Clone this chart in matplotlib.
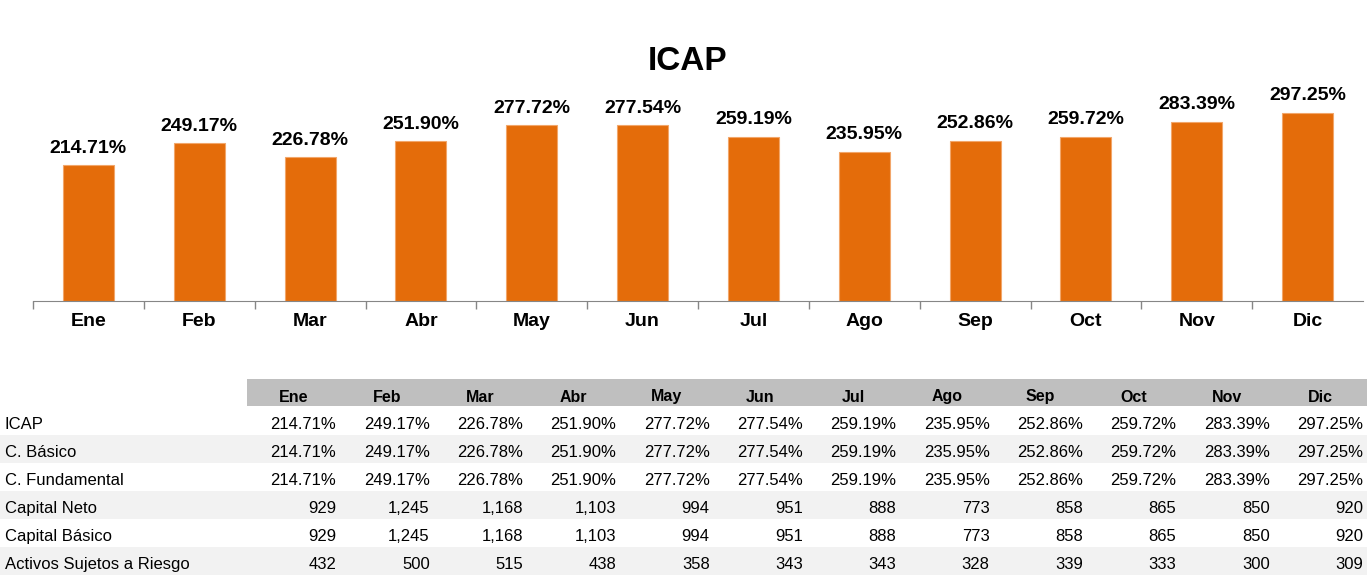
import numpy as np
import matplotlib
matplotlib.use('Agg')
import matplotlib.pyplot as plt
from matplotlib.patches import Rectangle

plt.rcParams['font.family'] = ['Liberation Sans', 'DejaVu Sans']

meses = ['Ene', 'Feb', 'Mar', 'Abr', 'May', 'Jun', 'Jul', 'Ago', 'Sep', 'Oct', 'Nov', 'Dic']
icap = [214.71, 249.17, 226.78, 251.90, 277.72, 277.54, 259.19, 235.95, 252.86, 259.72, 283.39, 297.25]
c_basico = [214.71, 249.17, 226.78, 251.90, 277.72, 277.54, 259.19, 235.95, 252.86, 259.72, 283.39, 297.25]
c_fundamental = [214.71, 249.17, 226.78, 251.90, 277.72, 277.54, 259.19, 235.95, 252.86, 259.72, 283.39, 297.25]
capital_neto = [929, 1245, 1168, 1103, 994, 951, 888, 773, 858, 865, 850, 920]
capital_basico = [929, 1245, 1168, 1103, 994, 951, 888, 773, 858, 865, 850, 920]
activos_riesgo = [432, 500, 515, 438, 358, 343, 343, 328, 339, 333, 300, 309]

filas = [
    ('ICAP', icap, True),
    ('C. Básico', c_basico, True),
    ('C. Fundamental', c_fundamental, True),
    ('Capital Neto', capital_neto, False),
    ('Capital Básico', capital_basico, False),
    ('Activos Sujetos a Riesgo', activos_riesgo, False),
]

W, H = 1370, 577
naranja = '#E46C0A'
gris_eje = '#868686'

fig = plt.figure(figsize=(W / 100, H / 100), dpi=100)

# tabla (coordenadas en pixeles)
tab = fig.add_axes([0, 0, 1, 1])
tab.set_xlim(0, W)
tab.set_ylim(H, 0)
tab.axis('off')

col_x0 = 247
col_w = 93.33
fila_h = 28
y_head = 379
y_filas = 407

tab.add_patch(Rectangle((col_x0, y_head), col_w * 12, fila_h - 1, color='#BFBFBF', lw=0))
for j, m in enumerate(meses):
    tab.text(col_x0 + (j + 0.5) * col_w, y_head + 18, m, ha='center', va='center',
             fontsize=11.5, fontweight='bold')

for r, (nombre, vals, pct) in enumerate(filas):
    top = y_filas + r * fila_h
    if r % 2 == 1:
        tab.add_patch(Rectangle((0, top), col_x0 + col_w * 12, fila_h, color='#F2F2F2', lw=0))
    tab.text(5, top + 17.5, nombre, ha='left', va='center', fontsize=12)
    for j, v in enumerate(vals):
        txt = f'{v:.2f}%' if pct else f'{v:,}'
        tab.text(col_x0 + (j + 1) * col_w - 4, top + 17.5, txt, ha='right', va='center', fontsize=12)

# grafico de barras
ax = fig.add_axes([33 / W, (H - 301) / H, 1330 / W, 221 / H])
x = np.arange(len(meses))
ax.bar(x, icap, width=0.46, color=naranja, edgecolor='#F2A66A', linewidth=0.8)
ax.set_xlim(-0.5, 11.5)
ax.set_ylim(0, 349)
for s in ['top', 'right', 'left']:
    ax.spines[s].set_visible(False)
ax.spines['bottom'].set_color(gris_eje)
ax.set_yticks([])
ax.set_xticks(x, meses, fontsize=14, fontweight='bold')
ax.tick_params(axis='x', which='major', length=0, pad=9)
ax.set_xticks(np.arange(-0.5, 11, 1), minor=True)
ax.tick_params(axis='x', which='minor', length=6, color=gris_eje, width=1)
ax.patch.set_alpha(0)

for i, v in enumerate(icap):
    ax.annotate(f'{v:.2f}%', (i, v), xytext=(0, 9), textcoords='offset points',
                ha='center', va='baseline', fontsize=14, fontweight='bold')

fig.text(688 / W, 1 - 61 / H, 'ICAP', ha='center', va='center', fontsize=24, fontweight='bold')

fig.savefig('out.png', dpi=100)
